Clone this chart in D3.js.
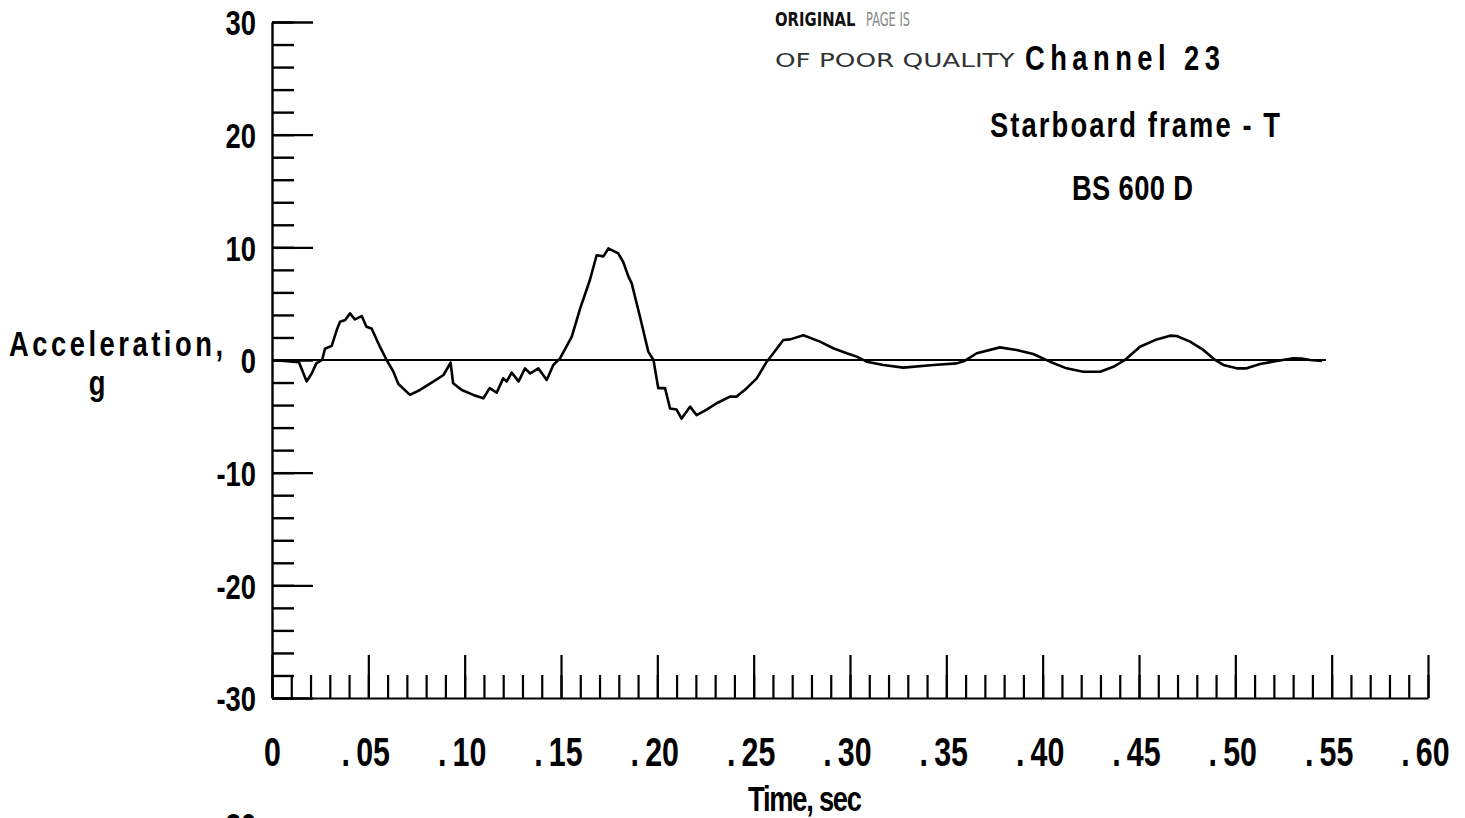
<!DOCTYPE html>
<html>
<head>
<meta charset="utf-8">
<script src="https://cdn.jsdelivr.net/npm/d3@7"></script>
<style>
  html, body { margin: 0; padding: 0; background: #fff; }
  svg { display: block; }
  text { font-family: 'Liberation Sans', Arimo, Arial, sans-serif; font-weight: bold; fill: #000; }
</style>
</head>
<body>
<div id="app"></div>
<script>
// trace: time (sec) and acceleration (g)
const timeSec = [0, .014, .018, .0206, .023, .026, .0275, .031, .0336, .0353, .038, .0405, .043, .0466, .049, .0517, .056, .0595,
  .063, .0656, .0716, .0768, .0837, .089, .0915, .0927, .094, .0985, .1045, .1097, .113, .1166, .12, .1218, .1244, .128, .1313,
  .134, .1382, .1426, .146, .1495, .1556, .16, .165, .1685, .172, .1746, .1797, .1823, .185, .1867, .191, .1953, .198, .2005,
  .204, .2066, .21, .2126, .217, .2204, .2256, .2308, .2377, .2412, .2464, .2516, .2568, .2602, .2654, .2689, .2758, .2844,
  .2913, .2983, .3035, .3087, .3173, .3277, .3433, .3554, .3597, .3658, .3778, .3865, .3951, .4038, .4124, .4211, .4298,
  .4367, .4427, .4505, .4592, .4661, .4696, .4765, .4834, .4895, .4938, .5007, .5059, .5128, .5215, .5301, .5345, .5388, .5449]
const accelG = [0, -0.2, -1.9, -1.2, -0.3, 0, 1.0, 1.25, 2.66, 3.4, 3.55, 4.14, 3.6, 3.9, 2.96, 2.8, 1.18, 0,
  -1.04, -2.13, -3.1, -2.66, -1.92, -1.33, -0.6, -0.24, -2.07, -2.66, -3.1, -3.4, -2.5, -2.9, -1.63, -1.9, -1.12, -1.9, -0.74,
  -1.2, -0.74, -1.77, -0.44, 0.15, 2.07, 4.6, 7.1, 9.3, 9.2, 9.9, 9.46, 8.7, 7.4, 6.8, 3.84, 0.74, 0, -2.5,
  -2.5, -4.3, -4.4, -5.2, -4.14, -4.9, -4.4, -3.84, -3.25, -3.25, -2.5, -1.63, -0.15, 0.6, 1.77, 1.83, 2.2, 1.63,
  1.04, 0.6, 0.3, -0.15, -0.44, -0.68, -0.44, -0.3, -0.06, 0.6, 1.12, 0.89, 0.53, -0.15, -0.74, -1.04, -1.04,
  -0.6, 0, 1.18, 1.83, 2.16, 2.13, 1.63, 0.89, 0, -0.44, -0.74, -0.74, -0.36, -0.09, 0.15, 0.12, 0, -0.09]

const xTicks = [0, .05, .10, .15, .20, .25, .30, .35, .40, .45, .50, .55, .60]
const xTickLabels = ['0', '.05', '.10', '.15', '.20', '.25', '.30', '.35', '.40', '.45', '.50', '.55', '.60']
const yTicks = [-30, -20, -10, 0, 10, 20, 30]
const yTickLabels = ['-30', '-20', '-10', '0', '10', '20', '30']
const zeroLineSpan = [0, 0.547]

const width = 1465
const height = 818
const squeeze = 0.76 // the typeface in the original is very condensed

const x = d3.scaleLinear().domain([0, 0.6]).range([272, 1428])
const y = d3.scaleLinear().domain([-30, 30]).range([698, 22])

const svg = d3.select('#app').append('svg').attr('width', width).attr('height', height)

const styleAxis = (g, w) => {
  g.selectAll('path, line').attr('stroke', '#000').attr('stroke-width', w)
}

// condensed bold label, placed with a translate so the squeeze does not move it
const label = (x0, y0, str, size, opts = {}) => {
  const t = svg.append('g')
    .attr('transform', `translate(${x0},${y0}) scale(${squeeze},1)`)
    .append('text')
    .attr('font-size', size)
    .text(str)
  if (opts.anchor) t.attr('text-anchor', opts.anchor)
  if (opts.length) t.attr('textLength', opts.length / squeeze).attr('lengthAdjust', 'spacing')
  return t
}

// y axis, ticks pointing into the plot
svg.append('g')
  .attr('transform', `translate(${x(0)},0)`)
  .call(d3.axisRight(y).tickValues(d3.range(-30, 31, 2)).tickSize(22).tickSizeOuter(0).tickFormat(''))
  .call((g) => styleAxis(g, 2.4))
svg.append('g')
  .attr('transform', `translate(${x(0)},0)`)
  .call(d3.axisRight(y).tickValues(yTicks).tickSize(41).tickSizeOuter(0).tickFormat(''))
  .call((g) => g.select('.domain').remove())
  .call((g) => styleAxis(g, 2.4))

// x axis, ticks pointing up
svg.append('g')
  .attr('transform', `translate(0,${y(-30)})`)
  .call(d3.axisTop(x).tickValues(d3.range(0, 61).map((i) => i / 100)).tickSize(23).tickSizeOuter(0).tickFormat(''))
  .call((g) => styleAxis(g, 2.2))
svg.append('g')
  .attr('transform', `translate(0,${y(-30)})`)
  .call(d3.axisTop(x).tickValues(xTicks).tickSize(43).tickSizeOuter(0).tickFormat(''))
  .call((g) => g.select('.domain').remove())
  .call((g) => styleAxis(g, 2.2))

// tick labels
svg.append('g')
  .attr('transform', `translate(${x(0)},0)`)
  .call(d3.axisLeft(y).tickValues(yTicks).tickSize(0).tickPadding(16 / squeeze).tickFormat((d, i) => yTickLabels[i]))
  .call((g) => g.select('.domain').remove())
  .call((g) => g.selectAll('text')
    .attr('font-size', 36).attr('font-family', null).attr('dy', '0.36em')
    .attr('transform', `scale(${squeeze},1)`))

svg.append('g')
  .attr('transform', `translate(0,${y(-30)})`)
  .call(d3.axisBottom(x).tickValues(xTicks).tickSize(0).tickPadding(40).tickFormat((d, i) => xTickLabels[i]))
  .call((g) => g.select('.domain').remove())
  .call((g) => g.selectAll('text')
    .attr('font-size', 40).attr('font-family', null)
    .attr('transform', `scale(${squeeze},1)`)
    .each(function (d, i) {
      const s = xTickLabels[i]
      if (s[0] !== '.') return
      const t = d3.select(this).text('').attr('dx', '-0.1em')
      t.append('tspan').text('.')
      t.append('tspan').attr('dx', 8).text(s.slice(1))
    }))

// zero line
svg.append('line')
  .attr('x1', x(zeroLineSpan[0])).attr('x2', x(zeroLineSpan[1]))
  .attr('y1', y(0)).attr('y2', y(0))
  .attr('stroke', '#000').attr('stroke-width', 1.8)

// trace
const line = d3.line().x((d, i) => x(timeSec[i])).y((d) => y(d))
svg.append('path')
  .attr('d', line(accelG))
  .attr('fill', 'none')
  .attr('stroke', '#000')
  .attr('stroke-width', 2.6)
  .attr('stroke-linejoin', 'round')

// axis titles
label(9, 356, 'Acceleration,', 36, {length: 214})
label(97, 395, 'g', 36, {anchor: 'middle'})
label(805, 811, 'Time, sec', 36, {anchor: 'middle', length: 114})

// stamp on the page, squeezed with a transform so its box stays true
const stampText = (x0, y0, str, sx, fill, weight) => svg.append('g')
  .attr('transform', `translate(${x0},${y0}) scale(${sx},1)`)
  .append('text')
  .attr('font-size', 19)
  .style('font-family', "'DejaVu Sans', sans-serif")
  .style('fill', fill).style('font-weight', weight)
  .text(str)
stampText(775, 26, 'ORIGINAL', 0.78, '#111', 'bold')
stampText(866, 26, 'PAGE IS', 0.6, '#888', 'normal')
stampText(775, 67, 'OF POOR QUALITY', 1.38, '#333', 'normal')

// channel annotations
label(1025, 70, 'Channel 23', 36, {length: 195})
label(990, 137, 'Starboard frame - T', 36, {length: 290})
label(1072, 200, 'BS 600 D', 36, {length: 121})

// top of the next figure's label, cut by the page edge
label(241, 838, '30', 36, {anchor: 'middle'})
</script>
</body>
</html>
